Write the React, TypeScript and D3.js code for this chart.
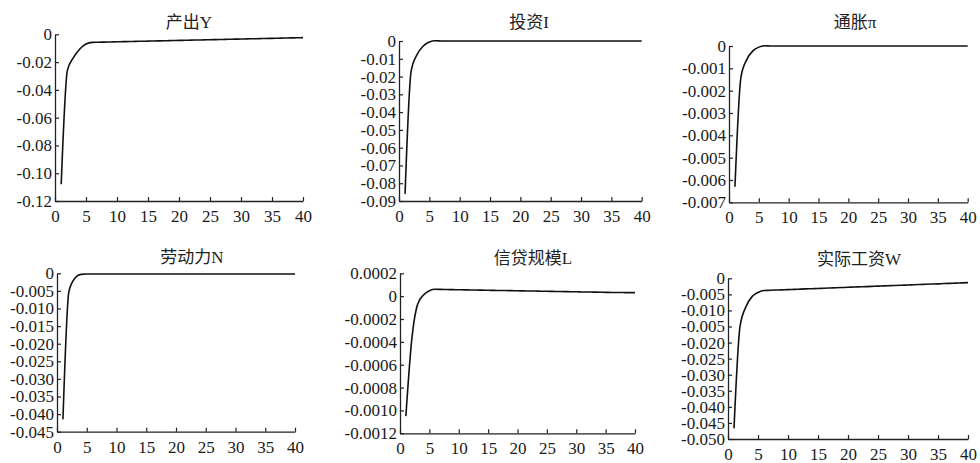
import { useEffect, useRef } from "react";
import * as d3 from "d3";

// impulse response periods and x-axis ticks
const periods = [1, 2, 3, 4, 5, 6, 7, 8, 9, 10, 11, 12, 13, 14, 15, 16, 17, 18, 19, 20,
  21, 22, 23, 24, 25, 26, 27, 28, 29, 30, 31, 32, 33, 34, 35, 36, 37, 38, 39, 40];
const xTicks = [0, 5, 10, 15, 20, 25, 30, 35, 40];

const titles = ["产出Y", "投资I", "通胀π", "劳动力N", "信贷规模L", "实际工资W"];

// series
const outputY = [-0.108, -0.026, -0.0166, -0.0106, -0.0070, -0.0058, -0.0057, -0.0056, -0.0055, -0.0054,
  -0.0053, -0.0052, -0.0051, -0.0050, -0.0049, -0.0048, -0.0047, -0.0046, -0.0045, -0.0044,
  -0.0043, -0.0042, -0.0041, -0.0040, -0.0039, -0.0038, -0.0037, -0.0036, -0.0035, -0.0034,
  -0.0033, -0.0032, -0.0031, -0.0030, -0.0029, -0.0028, -0.0027, -0.0026, -0.0025, -0.0024];
const investI = [-0.086, -0.017, -0.0075, -0.0028, -0.0006, 0.0001, 0, 0, 0, 0,
  0, 0, 0, 0, 0, 0, 0, 0, 0, 0,
  0, 0, 0, 0, 0, 0, 0, 0, 0, 0,
  0, 0, 0, 0, 0, 0, 0, 0, 0, 0];
const inflation = [-0.0063, -0.0014, -0.0006, -0.00022, -0.00005, 0.00001, 0, 0, 0, 0,
  0, 0, 0, 0, 0, 0, 0, 0, 0, 0,
  0, 0, 0, 0, 0, 0, 0, 0, 0, 0,
  0, 0, 0, 0, 0, 0, 0, 0, 0, 0];
const laborN = [-0.0415, -0.0052, -0.0014, -0.0003, -0.0002, -0.0002, -0.0002, -0.0002, -0.0002, -0.0002,
  -0.0002, -0.0002, -0.0002, -0.0002, -0.0002, -0.0002, -0.0002, -0.0002, -0.0002, -0.0002,
  -0.0002, -0.0002, -0.0002, -0.0002, -0.0002, -0.0002, -0.0002, -0.0002, -0.0002, -0.0002,
  -0.0002, -0.0002, -0.0002, -0.0002, -0.0002, -0.0002, -0.0002, -0.0002, -0.0002, -0.0002];
const creditL = [-0.00105, -0.00038, -0.00007, 0.00001, 0.000048, 0.000060, 0.000059, 0.000058, 0.000057, 0.000056,
  0.000055, 0.0000545, 0.0000535, 0.0000525, 0.0000515, 0.0000505, 0.0000495, 0.000049, 0.000048, 0.000047,
  0.000046, 0.000045, 0.0000445, 0.0000435, 0.0000425, 0.0000415, 0.0000405, 0.00004, 0.000039, 0.000038,
  0.000037, 0.000036, 0.0000355, 0.0000345, 0.0000335, 0.0000325, 0.000032, 0.0000315, 0.000031, 0.000031];
const wageW = [-0.0467, -0.015, -0.0088, -0.0057, -0.0044, -0.0038, -0.00373, -0.00366, -0.00359, -0.00352,
  -0.00344, -0.00337, -0.0033, -0.00323, -0.00316, -0.00308, -0.00301, -0.00294, -0.00287, -0.0028,
  -0.00272, -0.00265, -0.00258, -0.00251, -0.00244, -0.00236, -0.00229, -0.00222, -0.00215, -0.00208,
  -0.002, -0.00193, -0.00186, -0.00179, -0.00172, -0.00164, -0.00157, -0.0015, -0.00143, -0.00136];

// y ticks and their labels (the wage panel really reads "-0.005" twice)
const yTicksY = [0, -0.02, -0.04, -0.06, -0.08, -0.10, -0.12];
const yLabelsY = ["0", "-0.02", "-0.04", "-0.06", "-0.08", "-0.10", "-0.12"];
const yTicksI = [0, -0.01, -0.02, -0.03, -0.04, -0.05, -0.06, -0.07, -0.08, -0.09];
const yLabelsI = ["0", "-0.01", "-0.02", "-0.03", "-0.04", "-0.05", "-0.06", "-0.07", "-0.08", "-0.09"];
const yTicksPi = [0, -0.001, -0.002, -0.003, -0.004, -0.005, -0.006, -0.007];
const yLabelsPi = ["0", "-0.001", "-0.002", "-0.003", "-0.004", "-0.005", "-0.006", "-0.007"];
const yTicksN = [0, -0.005, -0.010, -0.015, -0.020, -0.025, -0.030, -0.035, -0.040, -0.045];
const yLabelsN = ["0", "-0.005", "-0.010", "-0.015", "-0.020", "-0.025", "-0.030", "-0.035", "-0.040", "-0.045"];
const yTicksL = [0.0002, 0, -0.0002, -0.0004, -0.0006, -0.0008, -0.0010, -0.0012];
const yLabelsL = ["0.0002", "0", "-0.0002", "-0.0004", "-0.0006", "-0.0008", "-0.0010", "-0.0012"];
const yTicksW = [0, -0.005, -0.010, -0.015, -0.020, -0.025, -0.030, -0.035, -0.040, -0.045, -0.050];
const yLabelsW = ["0", "-0.005", "-0.010", "-0.005", "-0.020", "-0.025", "-0.030", "-0.035", "-0.040", "-0.045", "-0.050"];

const series = [outputY, investI, inflation, laborN, creditL, wageW];
const yTicks = [yTicksY, yTicksI, yTicksPi, yTicksN, yTicksL, yTicksW];
const yLabels = [yLabelsY, yLabelsI, yLabelsPi, yLabelsN, yLabelsL, yLabelsW];

// plot boxes (pixels) and title anchors
const boxes = [
  { left: 55, right: 303, top: 34.3, bottom: 201, tx: 189, ty: 27.5 },
  { left: 399, right: 641.7, top: 41, bottom: 201, tx: 529, ty: 28 },
  { left: 729, right: 967.7, top: 46, bottom: 202.3, tx: 855, ty: 28 },
  { left: 57, right: 295, top: 273.3, bottom: 431.7, tx: 192, ty: 263 },
  { left: 400, right: 635, top: 273.3, bottom: 433.3, tx: 533, ty: 264 },
  { left: 728, right: 968, top: 278.3, bottom: 439, tx: 859, ty: 265 },
];

const FONT = "'Liberation Serif', 'Times New Roman', 'Noto Sans CJK SC', serif";

export default function App() {
  const ref = useRef<SVGSVGElement>(null);

  useEffect(() => {
    const svg = d3.select(ref.current);
    svg.selectAll("*").remove();

    series.forEach((values, i) => {
      const b = boxes[i];
      const ticks = yTicks[i];
      const labels = yLabels[i];

      const x = d3.scaleLinear().domain([0, 40]).range([b.left, b.right]);
      const y = d3.scaleLinear()
        .domain([d3.min(ticks) as number, d3.max(ticks) as number])
        .range([b.bottom, b.top]);

      const g = svg.append("g");

      // x axis, ticks pointing inward
      const xAxis = g.append("g")
        .attr("transform", "translate(0," + b.bottom + ")")
        .call(d3.axisBottom(x)
          .tickValues(xTicks)
          .tickSizeInner(-4)
          .tickSizeOuter(0)
          .tickPadding(9)
          .tickFormat(d3.format("d")));

      // y axis
      const yAxis = g.append("g")
        .attr("transform", "translate(" + b.left + ",0)")
        .call(d3.axisLeft(y)
          .tickValues(ticks)
          .tickSizeInner(-4)
          .tickSizeOuter(0)
          .tickPadding(3)
          .tickFormat((_d, k) => labels[k]));

      [xAxis, yAxis].forEach((a) => {
        a.attr("font-size", 17).attr("font-family", FONT);
        a.select(".domain").attr("stroke", "#222").attr("stroke-width", 1.3);
        a.selectAll(".tick line").attr("stroke", "#222").attr("stroke-width", 1.2);
        a.selectAll(".tick text").attr("fill", "#1a1a1a");
      });

      // title
      g.append("text")
        .attr("x", b.tx)
        .attr("y", b.ty)
        .attr("text-anchor", "middle")
        .attr("font-size", 17)
        .attr("font-family", FONT)
        .attr("fill", "#222")
        .text(titles[i]);

      // response line
      const line = d3.line<number>()
        .x((_d, k) => x(periods[k]))
        .y((d) => y(d))
        .curve(d3.curveMonotoneX);

      g.append("path")
        .datum(values)
        .attr("d", line)
        .attr("fill", "none")
        .attr("stroke", "#111")
        .attr("stroke-width", 1.6);
    });
  }, []);

  return (
    <svg
      ref={ref}
      width={980}
      height={463}
      style={{ position: "absolute", left: 0, top: 0, background: "#fff" }}
    />
  );
}
